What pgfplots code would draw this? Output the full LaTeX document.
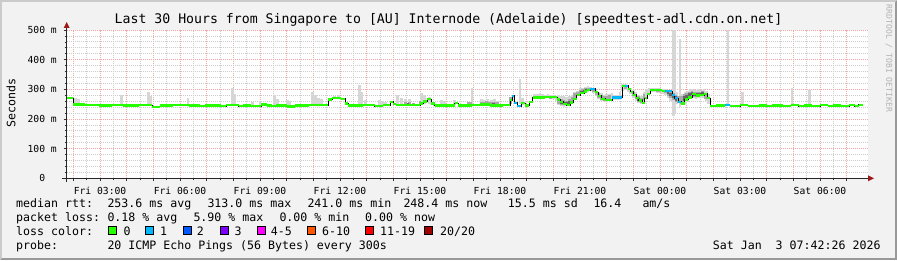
\documentclass[border=0pt]{standalone}
\usepackage{fontspec}
\setmainfont{DejaVu Sans Mono}
\usepackage{pgfplots}
\pgfplotsset{compat=1.18}
\usepackage{pgfplotstable}

\definecolor{bgc}{HTML}{F2F2F2}
\definecolor{shadeA}{HTML}{CBCBCB}
\definecolor{shadeB}{HTML}{999999}
\definecolor{mgrid}{HTML}{F4A8A8}
\definecolor{mingrid}{HTML}{CDCDCD}
\definecolor{loss0}{HTML}{26FF00}
\definecolor{loss1}{HTML}{00B8FF}
\definecolor{loss2}{HTML}{0059FF}
\definecolor{loss3}{HTML}{7E00FF}
\definecolor{loss5}{HTML}{FF00FF}
\definecolor{loss10}{HTML}{FF5500}
\definecolor{loss19}{HTML}{FF0000}
\definecolor{loss20}{HTML}{A10000}
\definecolor{smokeL}{HTML}{D6D6D6}
\definecolor{smokeM}{HTML}{A8A8A8}
\definecolor{smokeD}{HTML}{656565}
\definecolor{arrowc}{HTML}{9E1A1A}

\newcommand\fT{\fontsize{13.2}{15}\selectfont}
\newcommand\fL{\fontsize{11.6}{13}\selectfont}
\newcommand\fK{\fontsize{9.7}{11}\selectfont}
\newcommand\fR{\fontsize{8.1}{9}\selectfont}

% median rtt (hours since Fri 00:00, ms)
\pgfplotstableread{
h ms
1.75 270
1.99 249
2.45 247
2.95 245
3.45 247
3.85 245
4.45 246
4.95 241
5.25 245
5.75 247
6.35 245
6.75 243
6.95 245
7.55 243
7.72 246
8.2 243
8.35 245
8.65 244
9.05 249
9.25 245
9.45 243
9.6 245
10.0 242
10.3 245
10.85 248
11.3 247
11.55 266
11.7 270
12.05 268
12.2 252
12.3 245
12.85 247
13.3 244
13.6 246
13.87 258
14.0 251
14.1 247
15.0 252
15.12 259
15.26 267
15.42 252
15.55 245
16.3 253
16.42 245
16.95 247
17.25 249
17.62 245
18.1 246
18.37 264
18.45 278
18.52 255
18.64 244
18.79 253
18.94 245
19.1 258
19.22 272
19.7 273
20.14 266
20.25 258
20.37 251
20.5 247
20.62 256
20.75 268
20.88 281
21.0 287
21.15 293
21.25 297
21.37 302
21.56 290
21.68 278
21.8 268
21.95 264
22.2 272
22.57 312
22.8 302
22.9 292
23.0 282
23.1 271
23.2 262
23.32 255
23.42 270
23.52 285
23.62 298
24.07 295
24.18 294
24.45 282
24.55 270
24.67 258
24.8 252
24.93 266
25.05 272
25.2 284
25.35 279
25.5 280
25.65 285
25.76 270
25.87 244
26.1 245
26.44 246
26.62 244
27.0 246
27.3 244
27.7 245
28.0 243
28.2 245
28.6 244
28.9 246
29.2 243
29.4 245
29.7 244
30.0 246
30.3 243
30.5 245
30.8 244
31.1 246
31.3 244
31.45 248
31.62 248
}\medtab

% light smoke: time, low, high (ms)
\pgfplotstableread{
x lo hi
2.08 246 272
2.18 246 266
3.82 246 281
4.82 246 292
4.9 246 279
6.3 246 270
7.96 246 303
8.06 246 284
8.72 246 258
9.0 246 262
9.55 246 281
9.64 246 268
10.02 243 264
10.12 243 262
10.97 248 292
11.07 248 281
11.2 248 272
11.3 248 268
11.8 270 279
11.95 270 281
12.72 246 315
12.8 246 290
12.95 246 265
13.48 246 264
13.58 246 262
13.7 246 258
14.15 248 281
14.3 248 272
14.45 248 268
14.6 248 266
15.05 248 287
15.18 250 280
15.35 250 274
15.8 247 265
15.92 247 262
16.3 247 264
16.95 246 303
17.3 246 268
17.42 246 265
17.55 246 268
17.68 246 264
17.8 246 266
17.92 246 262
18.75 250 335
18.85 246 270
19.3 270 285
19.4 270 283
19.5 270 287
19.6 271 284
19.7 271 282
19.8 270 284
19.9 268 281
20.0 266 280
20.1 262 278
20.2 248 282
20.3 244 278
20.4 242 276
20.5 243 274
20.6 246 276
20.7 255 282
20.8 266 292
20.9 276 296
21.0 280 303
21.1 284 306
21.2 288 308
21.3 292 310
21.4 293 309
21.5 288 306
21.6 278 300
21.7 268 292
21.8 260 286
21.9 256 282
22.0 258 284
22.1 262 285
22.2 264 286
22.3 264 282
22.4 264 282
22.5 265 290
22.6 296 318
22.7 298 318
22.8 292 314
22.9 284 306
23.0 272 298
23.1 262 290
23.2 254 282
23.3 250 276
23.4 258 290
23.5 272 300
23.6 288 306
23.7 290 304
23.8 290 306
23.9 289 304
24.0 288 303
24.1 285 302
24.2 280 300
24.3 272 298
24.4 262 296
24.5 210 520
24.56 220 520
24.63 250 292
24.75 240 470
24.85 246 285
24.95 252 290
25.05 258 295
25.15 266 300
25.25 270 302
25.35 268 298
25.45 270 300
25.55 270 298
25.65 272 302
25.75 262 296
25.82 250 285
26.55 244 520
27.1 244 292
28.95 244 303
29.6 244 298
}\smokeLtab

% medium smoke
\pgfplotstableread{
x lo hi
14.45 248 256
14.6 248 258
14.75 248 255
15.0 250 260
16.8 247 256
16.9 247 258
17.3 247 258
17.4 247 256
17.5 247 259
17.6 247 257
17.7 247 258
17.8 247 256
17.9 247 257
18.4 250 275
19.3 271 277
19.5 271 278
19.7 272 277
19.9 268 276
20.2 252 270
20.3 248 268
20.4 246 264
20.5 246 262
20.6 250 266
20.7 258 274
20.8 270 286
20.9 280 292
21.0 284 298
21.1 287 300
21.2 291 303
21.3 295 305
21.4 296 304
21.5 292 300
21.6 282 296
21.7 272 288
21.8 264 280
21.9 262 276
22.0 263 278
22.1 266 280
22.7 302 314
23.0 276 292
23.1 266 284
23.2 258 276
23.3 255 270
23.4 264 284
23.7 294 302
23.8 294 302
23.9 292 301
24.0 291 300
24.2 286 298
24.3 278 294
24.4 270 290
24.5 264 288
24.6 256 282
24.7 254 276
24.8 252 276
24.9 258 284
25.0 264 288
25.1 270 292
25.2 276 294
25.3 274 290
25.4 275 292
25.5 276 292
25.6 276 294
25.7 268 288
}\smokeMtab

% dark smoke
\pgfplotstableread{
x lo hi
14.55 248 253
14.7 248 252
17.4 247 253
17.5 247 254
17.6 247 252
17.75 247 253
20.3 250 262
20.4 248 258
20.5 248 256
20.6 252 262
21.05 288 296
21.15 290 298
21.25 293 301
21.35 296 302
23.2 262 272
23.3 258 266
24.3 284 292
24.4 276 288
24.5 270 284
24.6 262 276
24.9 262 276
25.0 268 280
25.1 274 288
25.2 280 290
25.3 276 286
25.4 277 288
25.5 278 288
25.6 280 290
}\smokeDtab

\pgfplotsset{
  smoke/.style={only marks, mark=*, mark size=0pt, mark options={draw=none, fill=none},
    error bars/.cd, y dir=both, y explicit, error mark=none,
    error bar style={draw=#1, line width=2.9pt}},
}

\begin{document}
\begin{tikzpicture}
\fill[shadeB] (0pt,0pt) rectangle (897pt,260pt);
\fill[shadeA] (0pt,0pt) -- (0pt,260pt) -- (897pt,260pt) -- (895pt,258pt) -- (2pt,258pt) -- (2pt,2pt) -- cycle;
\fill[bgc] (2pt,2pt) rectangle (895pt,258pt);

\begin{axis}[
  at={(66.7pt,81.7pt)}, anchor=south west,
  scale only axis, width=801.3pt, height=148.3pt,
  xmin=1.75, xmax=31.8, ymin=0, ymax=500,
  axis background/.style={fill=white},
  axis line style={draw=none},
  tick pos=left, tick align=outside,
  major tick length=3pt, minor tick length=2pt,
  tick style={draw=black!80, line width=0.7pt},
  xtick={2,...,31}, minor x tick num=1,
  xticklabels={{},Fri 03:00,{},{},Fri 06:00,{},{},Fri 09:00,{},{},Fri 12:00,{},{},Fri 15:00,{},{},Fri 18:00,{},{},Fri 21:00,{},{},Sat 00:00,{},{},Sat 03:00,{},{},Sat 06:00,{}},
  ytick={0,100,...,500}, minor y tick num=4,
  yticklabels={0\phantom{~m},100 m,200 m,300 m,400 m,500 m},
  grid=both,
  major grid style={mgrid, line width=0.8pt, dash pattern=on 1pt off 1pt},
  minor grid style={mingrid, line width=0.8pt, dash pattern=on 1pt off 1pt},
  xticklabel style={font=\fK, anchor=base, inner sep=0pt, yshift=-12.7pt},
  yticklabel style={font=\fK, anchor=east, inner sep=0pt, xshift=-6.7pt},
  unbounded coords=jump,
]
\addplot[smoke=smokeL] table[x=x, y expr={(\thisrow{lo}+\thisrow{hi})/2}, y error expr={(\thisrow{hi}-\thisrow{lo})/2}] {\smokeLtab};
\addplot[smoke=smokeM] table[x=x, y expr={(\thisrow{lo}+\thisrow{hi})/2}, y error expr={(\thisrow{hi}-\thisrow{lo})/2}] {\smokeMtab};
\addplot[smoke=smokeD] table[x=x, y expr={(\thisrow{lo}+\thisrow{hi})/2}, y error expr={(\thisrow{hi}-\thisrow{lo})/2}] {\smokeDtab};
\addplot[const plot, black, line width=0.7pt] table[x=h, y=ms] {\medtab};
\addplot[jump mark left, loss0, line width=2.3pt] table[x=h, y=ms] {\medtab};
\addplot[jump mark left, loss1, line width=2.3pt] coordinates {
(18.45,278) (18.52,255) (18.64,244) (18.79,244) (18.8,nan)
(21.37,302) (21.56,302) (21.57,nan)
(22.2,272) (22.57,272) (22.58,nan)
(22.68,312) (22.8,312) (22.81,nan)
(24.18,294) (24.45,282) (24.55,270) (24.67,258) (24.8,258) (24.81,nan)
(26.44,246) (26.62,246)
};
\end{axis}

% axis lines and arrows
\draw[black!85, line width=0.9pt] (61.7pt,81.7pt) -- (869pt,81.7pt);
\fill[arrowc] (868pt,84.7pt) -- (874pt,81.7pt) -- (868pt,78.7pt) -- cycle;
\draw[black!85, line width=0.9pt] (66.7pt,78.3pt) -- (66.7pt,233pt);
\fill[arrowc] (63.7pt,232pt) -- (66.7pt,238pt) -- (69.7pt,232pt) -- cycle;

% title and side texts
\node[anchor=base, inner sep=0pt, font=\fT] at (448.5pt,236pt) {Last 30 Hours from Singapore to [AU] Internode (Adelaide) [speedtest-adl.cdn.on.net]};
\node[rotate=90, inner sep=0pt, font=\fL] at (11pt,157pt) {Seconds};
\node[rotate=-90, inner sep=0pt, font=\fR, text=black!30] at (889pt,201.5pt) {RRDTOOL / TOBI OETIKER};

% legend
\begin{scope}[every node/.style={anchor=base west, inner sep=0pt, font=\fL}]
\node at (16pt,52.7pt) {median rtt:};
\node at (107.3pt,52.7pt) {253.6 ms avg};
\node at (207.3pt,52.7pt) {313.0 ms max};
\node at (307.3pt,52.7pt) {241.0 ms min};
\node at (403.3pt,52.7pt) {248.4 ms now};
\node at (507.7pt,52.7pt) {15.5 ms sd};
\node at (593.3pt,52.7pt) {16.4};
\node at (642.3pt,52.7pt) {am/s};

\node at (16pt,38.5pt) {packet loss:};
\node at (107.3pt,38.5pt) {0.18 \% avg};
\node at (193.3pt,38.5pt) {5.90 \% max};
\node at (279.3pt,38.5pt) {0.00 \% min};
\node at (365pt,38.5pt) {0.00 \% now};

\node at (16pt,24.3pt) {loss color:};
\node at (123.3pt,24.3pt) {0};
\node at (160pt,24.3pt) {1};
\node at (196.7pt,24.3pt) {2};
\node at (234.3pt,24.3pt) {3};
\node at (270.7pt,24.3pt) {4-5};
\node at (322pt,24.3pt) {6-10};
\node at (380pt,24.3pt) {11-19};
\node at (440pt,24.3pt) {20/20};

\node at (16pt,10.1pt) {probe:};
\node at (107.3pt,10.1pt) {20 ICMP Echo Pings (56 Bytes) every 300s};
\end{scope}
\node[anchor=base east, inner sep=0pt, font=\fL] at (880.7pt,10.1pt) {Sat Jan\ \ 3 07:42:26 2026};

\begin{scope}[line width=0.8pt]
\filldraw[fill=loss0, draw=black] (108.3pt,25.3pt) rectangle ++(8pt,8pt);
\filldraw[fill=loss1, draw=black] (145.7pt,25.3pt) rectangle ++(8pt,8pt);
\filldraw[fill=loss2, draw=black] (183pt,25.3pt) rectangle ++(8pt,8pt);
\filldraw[fill=loss3, draw=black] (220.3pt,25.3pt) rectangle ++(8pt,8pt);
\filldraw[fill=loss5, draw=black] (257pt,25.3pt) rectangle ++(8pt,8pt);
\filldraw[fill=loss10, draw=black] (307.7pt,25.3pt) rectangle ++(8pt,8pt);
\filldraw[fill=loss19, draw=black] (365.7pt,25.3pt) rectangle ++(8pt,8pt);
\filldraw[fill=loss20, draw=black] (424pt,25.3pt) rectangle ++(8pt,8pt);
\end{scope}

\pgfresetboundingbox
\path[use as bounding box] (0pt,0pt) rectangle (897pt,260pt);
\end{tikzpicture}
\end{document}
